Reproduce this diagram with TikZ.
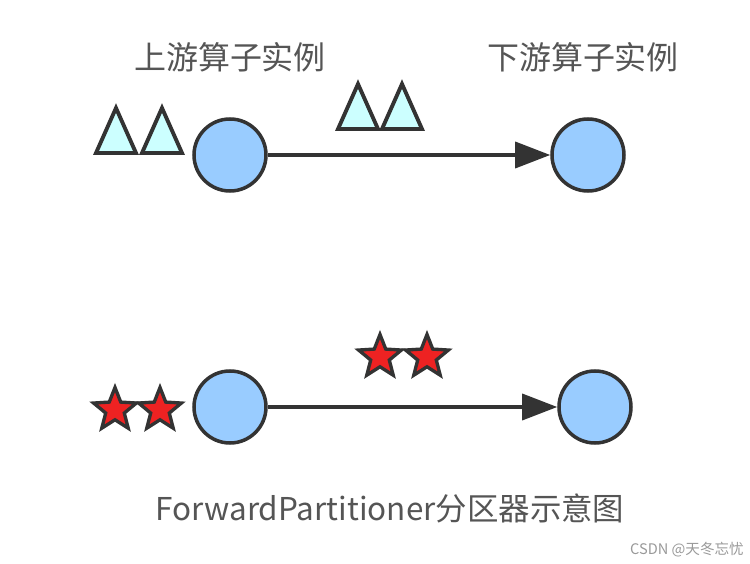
\documentclass[tikz,border=0pt]{standalone}
\usepackage{fontspec}
\setmainfont{Noto Sans CJK SC}
\usetikzlibrary{
    shapes.geometric,
    arrows.meta
}
\definecolor{inst}{RGB}{153,204,255}
\definecolor{tri}{RGB}{204,255,255}
\definecolor{rec}{RGB}{238,34,34}
\definecolor{edge}{RGB}{51,51,51}
\definecolor{txt}{RGB}{85,85,85}
\tikzset{
    >={Triangle[length=0.7cm,width=0.52cm]},
    instance/.style={
        circle,
        draw=edge,
        fill=inst,
        line width=2pt,
        minimum size=1.44cm,
        inner sep=0pt
    },
    record/.style={
        isosceles triangle,
        shape border rotate=90,
        isosceles triangle stretches,
        draw=edge,
        fill=tri,
        line width=2.2pt,
        minimum width=0.8cm,
        minimum height=0.9cm,
        inner sep=0pt
    },
    starrec/.style={
        star,
        star points=5,
        star point ratio=2.3,
        draw=edge,
        fill=rec,
        line width=1.9pt,
        minimum size=0.9cm,
        inner sep=0pt
    },
    label/.style={
        text=txt,
        font=\fontsize{18.2}{21}\selectfont
    }
}
\begin{document}
\begin{tikzpicture}
    \useasboundingbox (0,0) rectangle (15,11.28);

    % Titel
    \node[label] (lup)   at (4.6,10.14)  {上游算子实例};
    \node[label] (ldown) at (11.66,10.14) {下游算子实例};

    % Instanzen
    \node[instance] (up1)   at (4.6,8.18)  {};
    \node[instance] (down1) at (11.76,8.18) {};
    \node[instance] (up2)   at (4.6,3.14)  {};
    \node[instance] (down2) at (11.9,3.14) {};

    % Datensaetze
    \node[record] (ta) at (2.32,8.48) {};
    \node[record] (tb) at (3.24,8.48) {};
    \node[record] (tc) at (7.16,8.96) {};
    \node[record] (td) at (8.04,8.96) {};

    \node[starrec] (sa) at (2.3,3.08)  {};
    \node[starrec] (sb) at (3.2,3.08)  {};
    \node[starrec] (sc) at (7.6,4.14)  {};
    \node[starrec] (sd) at (8.54,4.14) {};

    % Verbindungen
    \draw[->, draw=edge, line width=2pt] (up1) -- (down1);
    \draw[->, draw=edge, line width=2pt] (up2) -- (down2);

    % Beschriftung
    \node[text=txt, font=\fontsize{17.9}{21}\selectfont]
        (cap) at (7.8,1.12) {ForwardPartitioner分区器示意图};
    \node[text=txt!60, font=\fontsize{8.3}{10}\selectfont]
        (wm) at (13.74,0.28) {CSDN @天冬忘忧};

\end{tikzpicture}
\end{document}
